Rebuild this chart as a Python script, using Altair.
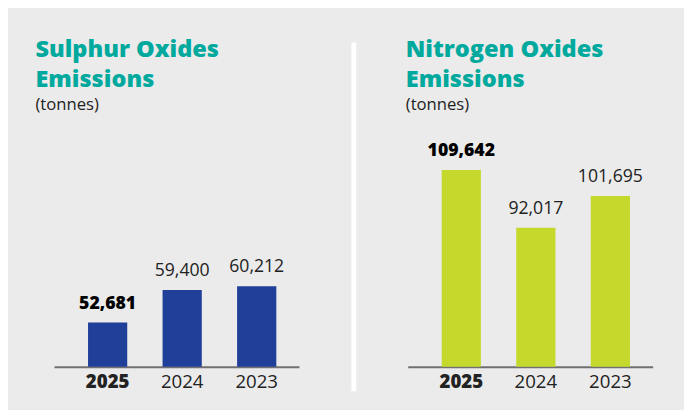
import altair as alt
import pandas as pd

years = ["2025", "2024", "2023"]
sox_values = [52681, 59400, 60212]
nox_values = [109642, 92017, 101695]
sox_title = ["Sulphur Oxides", "Emissions"]
nox_title = ["Nitrogen Oxides", "Emissions"]
unit = "(tonnes)"

BG = "#ebebeb"
TEAL = "#00a99d"
NAVY = "#1f3f99"
LIME = "#c5d92d"
FONT = "Open Sans"


def panel(values, title, color, domain, tx, sep_color):
    df = pd.DataFrame({"year": years, "value": values})
    base = alt.Chart(df)
    x = alt.X(
        "year:N",
        sort=years,
        scale=alt.Scale(paddingInner=0.474, paddingOuter=0.38, align=0.6),
        axis=alt.Axis(
            title=None,
            ticks=False,
            domainColor="#707070",
            domainWidth=2,
            labelAngle=0,
            labelFont=FONT,
            labelFontSize=19,
            labelColor="#222222",
            labelPadding=6,
            labelFontWeight={"condition": {"test": "datum.value == '2025'", "value": 800}, "value": "normal"},
        ),
    )
    y = alt.Y("value:Q", scale=alt.Scale(domain=domain, zero=False, clamp=True), axis=None)
    bars = base.mark_bar(color=color).encode(x=x, y=y)
    lab_norm = base.transform_filter(alt.datum.year != "2025").mark_text(
        font=FONT, fontSize=18, color="#222222", baseline="alphabetic", dy=-14
    ).encode(x=x, y=y, text=alt.Text("value:Q", format=",d"))
    lab_bold = base.transform_filter(alt.datum.year == "2025").mark_text(
        font=FONT, fontSize=18, fontWeight=800, color="#000000", baseline="alphabetic", dy=-14
    ).encode(x=x, y=y, text=alt.Text("value:Q", format=",d"))

    tdf = pd.DataFrame({"line1": [title[0]], "line2": [title[1]], "unit": [unit]})
    tbase = alt.Chart(tdf)
    t1 = tbase.mark_text(font=FONT, fontSize=24, fontWeight=800, color=TEAL,
                         align="left", baseline="alphabetic").encode(
        x=alt.value(tx), y=alt.value(-96), text="line1:N")
    t2 = tbase.mark_text(font=FONT, fontSize=24, fontWeight=800, color=TEAL,
                         align="left", baseline="alphabetic").encode(
        x=alt.value(tx), y=alt.value(-66), text="line2:N")
    t3 = tbase.mark_text(font=FONT, fontSize=17, color="#222222",
                         align="left", baseline="alphabetic").encode(
        x=alt.value(tx), y=alt.value(-42), text="unit:N")
    sep_x = -55 if sep_color == "white" else tx
    rule = tbase.mark_rule(color=sep_color, strokeWidth=5).encode(
        x=alt.value(sep_x), y=alt.value(-111), y2=alt.value(245)
    )
    return alt.layer(rule, bars, lab_norm, lab_bold, t1, t2, t3).properties(
        width=250, height=220
    )


left = panel(sox_values, sox_title, NAVY, [43463, 88211], -19, "transparent")
right = panel(nox_values, nox_title, LIME, [49600, 115314], -2, "white")

chart = alt.hconcat(left, right, spacing=53).properties(
    background=BG,
    padding={"left": 25, "top": 27, "right": 32, "bottom": 22},
).configure_view(stroke=None)

chart.save("out.html", embed_options={"renderer": "svg", "actions": False})
